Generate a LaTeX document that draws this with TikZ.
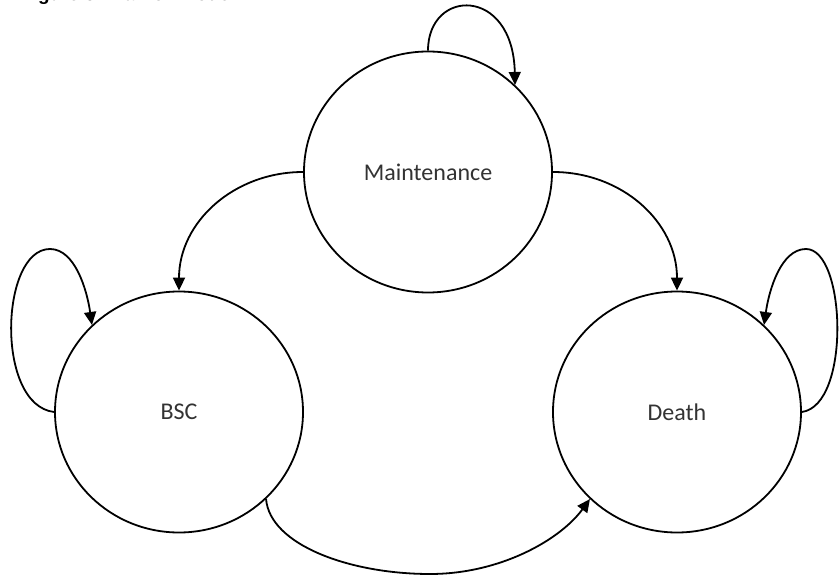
\documentclass[tikz,border=0pt]{standalone}
\usepackage{fontspec}
\setmainfont{Carlito}
\newfontfamily\titlefont{Liberation Sans}
\usetikzlibrary{arrows.meta,shapes.geometric}
\begin{document}
\begin{tikzpicture}[x=1pt,y=-1pt,
  state/.style={ellipse, draw, line width=1.8pt, minimum width=248pt, minimum height=241pt,
    inner sep=0pt, font=\fontsize{24}{28}\selectfont, text=black!80},
  conn/.style={line width=1.8pt, -{Triangle[length=13pt,width=12pt]}}]
\useasboundingbox (0,0) rectangle (839,575);
\node[anchor=base west, inner sep=0pt, font=\titlefont\bfseries\fontsize{19}{22}\selectfont] (title) at (21,1) {Figure 3: Markov Model};
\node[state] (M) at (428,172) {Maintenance};
\node[state] (B) at (179,412) {BSC};
\node[state] (D) at (677,412) {Death};
\coordinate (Bpk) at (50,249);
\coordinate (Dpk) at (806,249);
\coordinate (bot) at (430,574);
% self loops
\draw[conn] (M.90) .. controls (428,-12) and (513,-14) .. (M.45);
\draw[conn] (B.180) .. controls (-5,405) and (0,249) .. (Bpk) .. controls (75,249) and (87,290) .. (B.135);
\draw[conn] (D.0) .. controls (851,405) and (846,249) .. (Dpk) .. controls (781,249) and (769,290) .. (D.45);
% transitions
\draw[conn] (M.180) .. controls (234,172) and (179,222) .. (B.90);
\draw[conn] (M.0) .. controls (622,172) and (677,222) .. (D.90);
\draw[conn] (B.-45) .. controls (270,545) and (350,574) .. (bot) .. controls (500,574) and (560,540) .. (D.-135);
\end{tikzpicture}
\end{document}
